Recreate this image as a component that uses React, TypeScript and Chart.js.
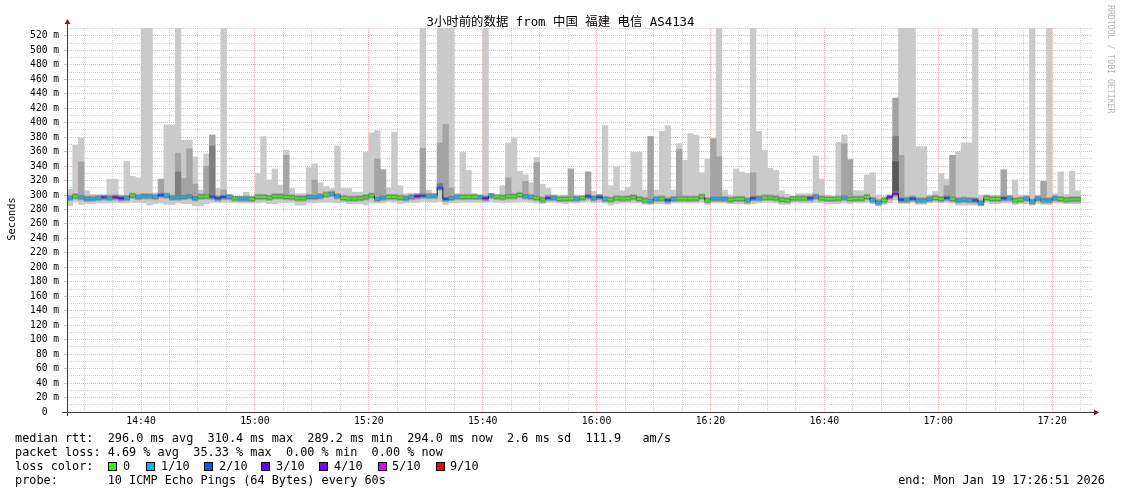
import React, { useEffect, useRef } from "react";
import { Chart, registerables } from "chart.js";

Chart.register(...registerables);

// ---------- text ----------
const TITLE = "3小时前的数据 from 中国 福建 电信 AS4134";
const Y_AXIS_TITLE = "Seconds";
const WATERMARK = "RRDTOOL / TOBI OETIKER";
const STATS_RTT = "median rtt:  296.0 ms avg  310.4 ms max  289.2 ms min  294.0 ms now  2.6 ms sd  111.9   am/s";
const STATS_LOSS = "packet loss: 4.69 % avg  35.33 % max  0.00 % min  0.00 % now";
const LOSS_TITLE = "loss color:";
const PROBE_LINE = "probe:       10 ICMP Echo Pings (64 Bytes) every 60s";
const END_LINE = "end: Mon Jan 19 17:26:51 2026";

// ---------- axes ----------
const X_START = 27; // minutes after 14:00 -> 14:27
const X_END = 207; // 17:27
const X_MINOR_STEP = 5;
const TIME_LABEL_MINUTES = [40, 60, 80, 100, 120, 140, 160, 180, 200];
const TIME_LABELS = ["14:40", "15:00", "15:20", "15:40", "16:00", "16:20", "16:40", "17:00", "17:20"];
const Y_MAX = 531;
const Y_MINOR_STEP = 10;
const Y_MAJOR_STEP = 20;

// ---------- loss legend ----------
const LOSS_LABELS = ["0", "1/10", "2/10", "3/10", "4/10", "5/10", "9/10"];
const LOSS_COLORS = ["#26ff00", "#00b8ff", "#0059ff", "#5e00ff", "#7e00ff", "#dd00ff", "#ff0000"];

// ---------- data: one column per minute starting 14:27 ----------
const medianRtt = [
  296.0, 298.3, 296.9, 295.0, 295.0, 296.0, 296.9, 296.0, 296.9, 295.5,
  296.0, 299.2, 297.3, 298.3, 298.3, 297.3, 300.1, 299.2, 296.4, 296.4,
  297.3, 298.3, 295.5, 297.8, 298.3, 297.8, 295.5, 297.3, 297.3, 295.5,
  295.0, 295.0, 294.6, 297.3, 297.3, 296.4, 298.3, 298.3, 297.3, 296.9,
  295.5, 295.5, 297.3, 297.3, 298.3, 300.6, 301.5, 298.3, 296.0, 295.0,
  295.0, 295.5, 296.9, 299.2, 294.6, 296.4, 297.3, 297.3, 296.4, 295.5,
  297.3, 298.3, 299.2, 298.7, 298.7, 310.2, 294.6, 296.0, 297.3, 297.3,
  297.3, 297.3, 297.3, 295.5, 299.2, 297.8, 296.9, 298.3, 298.3, 300.1,
  298.3, 297.3, 296.0, 293.6, 296.0, 296.0, 294.6, 294.6, 295.0, 295.0,
  296.4, 298.3, 295.5, 297.3, 294.6, 293.6, 295.5, 295.0, 295.5, 296.9,
  294.6, 292.7, 291.8, 294.6, 295.0, 292.7, 294.6, 295.0, 295.0, 295.0,
  295.0, 297.8, 292.7, 295.0, 295.0, 294.6, 293.6, 294.6, 294.6, 292.7,
  295.5, 295.5, 296.4, 296.4, 295.5, 293.6, 292.7, 295.5, 295.5, 295.5,
  295.5, 297.8, 295.5, 294.6, 294.6, 295.0, 296.4, 294.6, 295.0, 295.0,
  297.3, 293.2, 290.0, 292.7, 297.3, 302.0, 293.6, 293.6, 295.0, 292.7,
  292.7, 294.6, 296.0, 294.6, 296.0, 294.6, 292.7, 293.6, 292.7, 292.7,
  289.1, 296.0, 294.6, 294.6, 295.5, 295.5, 292.7, 293.6, 295.0, 290.9,
  295.0, 292.7, 292.7, 295.5, 294.6, 293.6, 294.1, 294.1,
];

const pingMin = [
  285, 291, 287, 288, 288, 289, 289, 289, 290, 289,
  289, 290, 290, 289, 286, 288, 289, 287, 287, 289,
  288, 288, 285, 285, 288, 290, 290, 290, 290, 290,
  289, 289, 289, 289, 290, 288, 288, 289, 289, 290,
  286, 286, 289, 289, 290, 290, 290, 289, 290, 288,
  288, 288, 286, 289, 289, 289, 291, 290, 288, 289,
  290, 290, 291, 291, 290, 291, 287, 289, 289, 290,
  290, 290, 290, 290, 291, 290, 289, 290, 290, 291,
  291, 290, 289, 288, 290, 290, 289, 288, 289, 289,
  290, 291, 289, 290, 289, 286, 288, 289, 289, 289,
  289, 287, 287, 288, 288, 287, 289, 289, 289, 289,
  289, 290, 287, 289, 289, 289, 288, 288, 288, 287,
  288, 289, 290, 290, 289, 287, 287, 289, 289, 289,
  289, 290, 289, 288, 288, 288, 289, 288, 289, 289,
  290, 288, 285, 287, 289, 293, 288, 288, 289, 287,
  287, 289, 290, 289, 290, 289, 286, 286, 286, 286,
  285, 290, 288, 288, 289, 289, 287, 288, 288, 286,
  288, 287, 287, 289, 289, 288, 288, 288,
];

const pingMax = [
  308, 369, 379, 306, 301, 300, 300, 322, 322, 300,
  347, 326, 324, 531, 531, 303, 322, 397, 397, 531,
  376, 376, 353, 307, 357, 383, 309, 531, 301, 298,
  298, 304, 298, 330, 381, 321, 336, 314, 362, 309,
  302, 302, 338, 343, 317, 312, 309, 368, 309, 309,
  304, 304, 359, 386, 389, 335, 310, 387, 313, 302,
  302, 302, 531, 307, 302, 531, 531, 531, 302, 359,
  334, 302, 300, 531, 302, 300, 313, 372, 379, 333,
  328, 317, 352, 315, 309, 300, 300, 300, 336, 300,
  298, 332, 305, 301, 396, 313, 339, 306, 311, 359,
  359, 307, 381, 307, 388, 396, 307, 371, 348, 385,
  383, 331, 350, 378, 531, 307, 300, 336, 332, 330,
  531, 388, 362, 337, 334, 306, 301, 298, 302, 302,
  302, 354, 322, 300, 298, 373, 383, 349, 306, 306,
  328, 331, 300, 298, 300, 434, 531, 531, 531, 367,
  367, 300, 305, 330, 322, 355, 360, 372, 372, 531,
  300, 300, 300, 300, 335, 300, 321, 300, 300, 531,
  300, 319, 531, 302, 332, 301, 333, 306,
];

const lossCount = [
  1, 0, 1, 1, 1, 1, 2, 1, 4, 3,
  1, 0, 1, 1, 1, 1, 2, 1, 1, 1,
  1, 1, 1, 0, 0, 2, 2, 2, 1, 0,
  1, 1, 0, 0, 0, 0, 0, 0, 0, 0,
  0, 0, 1, 1, 1, 0, 1, 1, 0, 0,
  0, 0, 0, 0, 1, 1, 0, 0, 0, 1,
  1, 4, 2, 1, 1, 2, 2, 1, 1, 0,
  0, 0, 1, 4, 1, 0, 0, 0, 0, 0,
  1, 1, 0, 0, 2, 1, 0, 0, 0, 1,
  0, 2, 1, 2, 1, 0, 0, 0, 0, 0,
  0, 0, 1, 1, 0, 2, 1, 0, 0, 0,
  0, 0, 0, 1, 1, 1, 0, 0, 0, 1,
  2, 1, 0, 0, 0, 0, 0, 0, 0, 0,
  2, 1, 0, 0, 0, 0, 1, 0, 0, 0,
  0, 1, 1, 0, 4, 4, 2, 1, 2, 1,
  1, 1, 0, 0, 2, 0, 1, 1, 1, 2,
  1, 0, 0, 0, 2, 1, 0, 0, 1, 1,
  1, 1, 1, 1, 0, 0, 0, 0,
];

// second-highest ping band tops: [column, value]
const smokeMidTops: [number, number][] = [
  [2, 346], [16, 322], [19, 358], [20, 323], [21, 364], [22, 315], [24, 340],
  [25, 383], [27, 307], [38, 355], [43, 321], [54, 350], [55, 335], [62, 365],
  [65, 372], [66, 398], [67, 310], [77, 324], [80, 319], [82, 345], [88, 336],
  [91, 332], [102, 381], [107, 363], [113, 378], [114, 353], [120, 331],
  [136, 371], [137, 349], [145, 434], [146, 355], [154, 313], [155, 355],
  [164, 335], [171, 319],
];
const smokeDarkTops: [number, number][] = [[19, 332], [25, 368], [65, 316], [145, 381]];
const smokeDarkestTops: [number, number][] = [[145, 346]];

// ---------- style ----------
const SMOKE_COLORS = ["#cacaca", "#a4a4a4", "#7e7e7e", "#585858"];
const GRID_MINOR = "rgba(150,150,150,0.42)";
const GRID_MAJOR = "rgba(240,80,80,0.45)";
const AXIS_COLOR = "#3a3a3a";
const ARROW_COLOR = "#8b1a1a";
const MONO = "'DejaVu Sans Mono', 'Noto Sans CJK SC', monospace";

function lossColorIndex(n: number): number {
  if (n <= 4) return n;
  if (n <= 8) return 5;
  return 6;
}

const axesPlugin = {
  id: "rrdAxes",
  afterDraw(chart: any) {
    const { ctx, chartArea } = chart;
    const { left, right, top, bottom } = chartArea;
    const ax = Math.round(left) + 0.5;
    const ay = Math.round(bottom) + 0.5;
    ctx.save();
    ctx.strokeStyle = AXIS_COLOR;
    ctx.lineWidth = 1;
    ctx.beginPath();
    ctx.moveTo(left - 5, ay);
    ctx.lineTo(right + 3, ay);
    ctx.moveTo(ax, bottom + 4);
    ctx.lineTo(ax, top - 4);
    ctx.stroke();
    ctx.fillStyle = ARROW_COLOR;
    ctx.beginPath();
    ctx.moveTo(right + 2, ay - 3);
    ctx.lineTo(right + 7, ay);
    ctx.lineTo(right + 2, ay + 3);
    ctx.closePath();
    ctx.fill();
    ctx.beginPath();
    ctx.moveTo(ax - 3, top - 4);
    ctx.lineTo(ax, top - 9);
    ctx.lineTo(ax + 3, top - 4);
    ctx.closePath();
    ctx.fill();
    ctx.restore();
  },
};

export default function App() {
  const canvasRef = useRef<HTMLCanvasElement | null>(null);

  useEffect(() => {
    const canvas = canvasRef.current;
    if (!canvas) return;
    const colX = (i: number) => X_START + i + 0.5;

    const barBase = {
      type: "bar" as const,
      barPercentage: 1,
      categoryPercentage: 1,
      grouped: false,
      borderWidth: 0,
      inflateAmount: 0.3,
    };

    const light = pingMax.map((h, i) => ({ x: colX(i), y: [pingMin[i], h] }));
    const coreMid = medianRtt.map((m, i) => ({ x: colX(i), y: [m - 4, Math.min(m + 4, pingMax[i])] }));
    const coreDark = medianRtt.map((m, i) => ({ x: colX(i), y: [m - 2.5, m + 2.5] }));
    const midBand = smokeMidTops.map(([i, t]) => ({ x: colX(i), y: [medianRtt[i], t] }));
    const darkBand = smokeDarkTops.map(([i, t]) => ({ x: colX(i), y: [medianRtt[i], t] }));
    const darkestBand = smokeDarkestTops.map(([i, t]) => ({ x: colX(i), y: [medianRtt[i], t] }));
    const medianBand = medianRtt.map((m, i) => ({ x: colX(i), y: [m - 1.4, m + 1.4] }));
    const medianColors = lossCount.map((n) => LOSS_COLORS[lossColorIndex(n)]);
    const medianStep = medianRtt.map((m, i) => ({ x: X_START + i, y: m }));
    medianStep.push({ x: X_START + medianRtt.length, y: medianRtt[medianRtt.length - 1] });

    const xTicks: { value: number }[] = [];
    for (let v = X_START + 3; v < X_END; v += X_MINOR_STEP) xTicks.push({ value: v });
    const yTicks: { value: number }[] = [];
    for (let v = 0; v <= Y_MAX; v += Y_MINOR_STEP) yTicks.push({ value: v });

    const chart = new Chart(canvas, {
      type: "bar",
      data: {
        datasets: [
          { ...barBase, data: medianBand, backgroundColor: medianColors, order: 1, inflateAmount: 0 } as any,
          {
            type: "line",
            data: medianStep,
            stepped: true,
            borderColor: "#202020",
            borderWidth: 1,
            pointRadius: 0,
            order: 2,
          } as any,
          { ...barBase, data: coreDark, backgroundColor: SMOKE_COLORS[2], order: 3 } as any,
          { ...barBase, data: darkestBand, backgroundColor: SMOKE_COLORS[3], order: 4 } as any,
          { ...barBase, data: darkBand, backgroundColor: SMOKE_COLORS[2], order: 5 } as any,
          { ...barBase, data: coreMid, backgroundColor: SMOKE_COLORS[1], order: 6 } as any,
          { ...barBase, data: midBand, backgroundColor: SMOKE_COLORS[1], order: 7 } as any,
          { ...barBase, data: light, backgroundColor: SMOKE_COLORS[0], order: 8 } as any,
        ],
      },
      options: {
        animation: false,
        responsive: false,
        devicePixelRatio: 1,
        events: [],
        layout: { padding: { left: 0, top: 28, right: 29, bottom: 62 } },
        plugins: {
          legend: { display: false },
          tooltip: { enabled: false },
          title: { display: false },
        },
        scales: {
          x: {
            type: "linear",
            min: X_START,
            max: X_END,
            offset: false,
            afterBuildTicks: (scale: any) => {
              scale.ticks = xTicks.map((t) => ({ ...t }));
            },
            afterFit: (scale: any) => {
              scale.height = 20;
            },
            grid: {
              offset: false,
              drawTicks: false,
              lineWidth: 1,
              color: (c: any) => (c.tick && c.tick.value % 20 === 0 ? GRID_MAJOR : GRID_MINOR),
              borderDash: [1, 1],
            },
            border: { display: false, dash: [1, 1] },
            ticks: {
              autoSkip: false,
              maxRotation: 0,
              minRotation: 0,
              padding: 4,
              color: "#000",
              font: { family: MONO, size: 9.8 },
              callback: (v: any) => {
                const k = TIME_LABEL_MINUTES.indexOf(Number(v));
                return k >= 0 ? TIME_LABELS[k] : "";
              },
            },
          } as any,
          y: {
            type: "linear",
            min: 0,
            max: Y_MAX,
            afterBuildTicks: (scale: any) => {
              scale.ticks = yTicks.map((t) => ({ ...t }));
            },
            afterFit: (scale: any) => {
              scale.width = 67;
            },
            grid: {
              drawTicks: true,
              tickLength: 3,
              lineWidth: 1,
              color: (c: any) => (c.tick && c.tick.value % Y_MAJOR_STEP === 0 ? GRID_MAJOR : GRID_MINOR),
              tickColor: (c: any) => (c.tick && c.tick.value % Y_MAJOR_STEP === 0 ? GRID_MAJOR : "rgba(0,0,0,0)"),
              borderDash: [1, 1],
            },
            border: { display: false, dash: [1, 1] },
            ticks: {
              autoSkip: false,
              padding: 5,
              color: "#000",
              font: { family: MONO, size: 9.6 },
              callback: (v: any) => {
                const n = Number(v);
                if (n % Y_MAJOR_STEP !== 0) return "";
                return n === 0 ? "0  " : `${n} m`;
              },
            },
          } as any,
        },
      },
      plugins: [axesPlugin],
    } as any);

    return () => chart.destroy();
  }, []);

  const legendSquareX = [108, 146, 204, 261, 319, 378, 436];
  const legendLabelX = [123, 161, 219, 276, 334, 392, 450];
  const lineStyle = (top: number): React.CSSProperties => ({
    position: "absolute",
    left: 15,
    top,
    fontFamily: MONO,
    fontSize: 11.85,
    lineHeight: "14px",
    whiteSpace: "pre",
    color: "#000",
  });

  return (
    <div style={{ position: "absolute", left: 0, top: 0, width: 1121, height: 494, background: "#fff", overflow: "hidden" }}>
      <canvas ref={canvasRef} width={1121} height={494} style={{ position: "absolute", left: 0, top: 0 }} />
      <div
        style={{
          position: "absolute",
          left: 0,
          top: 14,
          width: 1121,
          textAlign: "center",
          fontFamily: MONO,
          fontSize: 12.4,
          lineHeight: "16px",
          color: "#000",
          whiteSpace: "pre",
        }}
      >
        {TITLE}
      </div>
      <div
        style={{
          position: "absolute",
          left: 10.5 - 50,
          top: 219 - 7,
          width: 100,
          lineHeight: "14px",
          textAlign: "center",
          fontFamily: MONO,
          fontSize: 10.3,
          transform: "rotate(-90deg)",
          color: "#000",
        }}
      >
        {Y_AXIS_TITLE}
      </div>
      <div
        style={{
          position: "absolute",
          left: 1116,
          top: 5,
          transformOrigin: "0 0",
          transform: "rotate(90deg)",
          fontFamily: MONO,
          fontSize: 8.2,
          lineHeight: "10px",
          whiteSpace: "pre",
          color: "#b4b4b4",
        }}
      >
        {WATERMARK}
      </div>
      <div style={lineStyle(431)}>{STATS_RTT}</div>
      <div style={lineStyle(445)}>{STATS_LOSS}</div>
      <div style={lineStyle(459)}>{LOSS_TITLE}</div>
      {LOSS_LABELS.map((lab, k) => (
        <React.Fragment key={lab}>
          <div
            style={{
              position: "absolute",
              left: legendSquareX[k],
              top: 462,
              width: 7,
              height: 7,
              border: "1px solid #000",
              background: LOSS_COLORS[k],
            }}
          />
          <div style={{ ...lineStyle(459), left: legendLabelX[k] }}>{lab}</div>
        </React.Fragment>
      ))}
      <div style={lineStyle(473)}>{PROBE_LINE}</div>
      <div style={{ ...lineStyle(473), left: "auto", right: 16 }}>{END_LINE}</div>
    </div>
  );
}
